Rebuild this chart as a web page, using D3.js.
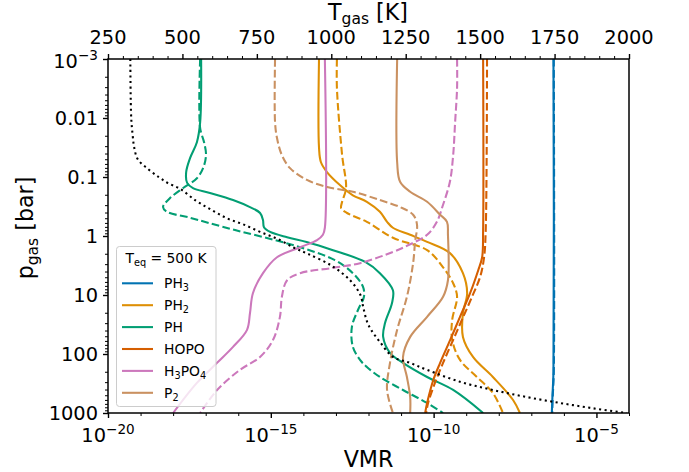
<!DOCTYPE html>
<html><head><meta charset="utf-8">
<script src="https://cdn.jsdelivr.net/npm/d3@7"></script>
<style>body{margin:0;background:#fff} svg{display:block} text{font-family:"DejaVu Sans",sans-serif;fill:#000}</style>
</head><body>
<svg id="c" width="689" height="472"></svg>
<script>
// ---------- data: [log10 p(bar), log10 VMR] ----------
const species = ["PH3","PH2","PH","HOPO","H3PO4","P2"];
const colors = ["#0173B2","#DE8F05","#029E73","#D55E00","#CC78BC","#CA9161"];
const teqLabel = "500 K";

const PH3_solid = [[-3,-6.32],[2.3,-6.32],[2.7,-6.35],[3,-6.37]];
const PH3_dash  = [[-3,-6.31],[2.3,-6.31],[2.7,-6.34],[3,-6.36]];

const PH2_solid = [[-3,-13.52],[-1.5,-13.52],[-1.25,-13.46],[-1.08,-13.27],[-0.86,-12.87],[-0.69,-12.48],[-0.58,-12.05],[-0.41,-11.65],[-0.24,-11.43],[-0.14,-11.25],[-0.02,-10.72],[0.10,-10.20],[0.29,-9.50],[0.63,-9.10],[0.97,-8.97],[1.31,-9.10],[1.71,-9.10],[2.05,-8.79],[2.39,-8.18],[2.78,-7.56],[3.0,-7.35]];
const PH2_dash  = [[-3,-12.97],[-2.51,-12.97],[-1.37,-12.81],[-0.81,-12.69],[-0.58,-12.81],[-0.47,-12.84],[-0.39,-12.66],[-0.24,-12.05],[0.03,-11.25],[0.24,-10.20],[0.53,-9.71],[0.80,-9.40],[1.03,-9.28],[1.42,-9.43],[1.76,-9.43],[2.10,-9.19],[2.39,-8.67],[2.66,-8.18],[3.0,-7.87]];

const PH_solid = [[-3,-17.14],[-1.93,-17.17],[-1.59,-17.27],[-1.32,-17.48],[-1.08,-17.60],[-0.9,-17.57],[-0.81,-17.39],[-0.73,-16.87],[-0.61,-16.16],[-0.49,-15.64],[-0.39,-15.33],[-0.27,-15.24],[-0.15,-15.21],[-0.07,-15.02],[0.02,-14.50],[0.10,-13.90],[0.24,-13.09],[0.44,-12.10],[0.63,-11.65],[0.92,-11.25],[1.14,-11.28],[1.47,-11.49],[1.71,-11.55],[1.98,-11.34],[2.15,-10.94],[2.39,-10.20],[2.61,-9.40],[3.0,-8.48]];
const PH_dash  = [[-3,-17.17],[-1.83,-17.17],[-1.59,-17.05],[-1.37,-16.99],[-1.15,-17.08],[-0.98,-17.27],[-0.81,-17.70],[-0.64,-18.10],[-0.49,-18.31],[-0.41,-18.19],[-0.31,-17.48],[-0.22,-16.90],[-0.10,-16.10],[0.03,-15.15],[0.19,-14.10],[0.41,-13.03],[0.63,-12.48],[0.86,-12.17],[1.03,-12.14],[1.25,-12.32],[1.54,-12.51],[1.88,-12.48],[2.10,-12.26],[2.22,-12.05],[2.39,-11.65],[2.61,-10.94],[2.83,-10.20],[3.0,-9.71]];

const HOPO_solid = [[-3,-8.48],[-0.10,-8.48],[0.36,-8.51],[0.58,-8.63],[0.97,-8.88],[1.37,-9.19],[1.76,-9.49],[2.15,-9.80],[2.44,-10.01],[2.83,-10.20],[3.0,-10.26]];
const HOPO_dash  = [[-3,-8.36],[-0.10,-8.40],[0.36,-8.45],[0.69,-8.57],[1.03,-8.82],[1.42,-9.13],[1.76,-9.40],[2.15,-9.71],[2.49,-9.96],[2.83,-10.17],[3.0,-10.23]];

const H3PO4_solid = [[-3,-13.34],[-0.14,-13.34],[-0.02,-13.40],[0.07,-13.58],[0.19,-14.10],[0.36,-14.81],[0.63,-15.24],[0.97,-15.55],[1.31,-15.64],[1.59,-15.73],[1.88,-16.16],[2.15,-16.65],[2.49,-17.27],[3.0,-18.0]];
const H3PO4_dash  = [[-3,-9.28],[-2.51,-9.28],[-1.93,-9.34],[-1.37,-9.40],[-0.92,-9.50],[-0.53,-9.71],[-0.24,-9.90],[-0.02,-10.20],[0.14,-10.72],[0.27,-11.25],[0.46,-12.26],[0.54,-13.09],[0.63,-14.10],[0.75,-14.50],[1.03,-14.66],[1.37,-14.72],[1.76,-14.93],[2.05,-15.33],[2.27,-15.95],[2.61,-16.65],[3.0,-17.17]];

const P2_solid = [[-3,-11.12],[-1.25,-11.12],[-0.92,-11.03],[-0.75,-10.72],[-0.58,-10.20],[-0.36,-9.80],[-0.24,-9.59],[-0.02,-9.56],[0.75,-9.56],[1.03,-9.71],[1.37,-10.20],[1.71,-10.72],[2.05,-10.94],[2.39,-10.82],[2.73,-10.72],[3.0,-10.72]];
const P2_dash  = [[-3,-14.87],[-1.93,-14.87],[-1.66,-14.81],[-1.37,-14.66],[-1.15,-14.41],[-0.95,-13.89],[-0.83,-13.27],[-0.75,-12.48],[-0.61,-11.65],[-0.49,-11.03],[-0.36,-10.63],[-0.19,-10.51],[0.10,-10.57],[0.46,-10.63],[1.03,-10.82],[1.59,-11.12],[2.15,-11.34],[2.61,-11.43],[3.0,-11.25]];

// temperature profile: [log10 p(bar), T(K)]
const Tprofile = [[-3,325],[-2,328],[-1.7,333],[-1.5,338],[-1.3,350],[-1.15,381],[-1.0,420],[-0.9,450],[-0.8,492],[-0.6,545],[-0.45,595],[-0.3,650],[-0.2,703],[-0.07,761],[0.05,820],[0.2,875],[0.3,920],[0.5,1000],[0.75,1063],[1.0,1098],[1.2,1107],[1.45,1120],[1.6,1135],[1.8,1164],[2.05,1207],[2.15,1264],[2.27,1322],[2.47,1432],[2.61,1543],[2.73,1657],[2.83,1768],[2.92,1879],[3.0,1993]];

const solids = [PH3_solid,PH2_solid,PH_solid,HOPO_solid,H3PO4_solid,P2_solid];
const dashes = [PH3_dash,PH2_dash,PH_dash,HOPO_dash,H3PO4_dash,P2_dash];

const vmrMajor = [-20,-15,-10,-5];
const pMajorLabels = ["10^-3","0.01","0.1","1","10","100","1000"];
const tMajor = [250,500,750,1000,1250,1500,1750,2000];

// ---------- layout ----------
const L=108,R=629,T=59,B=413;
const svg = d3.select("#c");
const x = d3.scaleLog().domain([1e-20,1e-4]).range([L,R]);
const y = d3.scaleLog().domain([1e-3,1e3]).range([T,B]);
const xT = d3.scaleLinear().domain([250,2000]).range([L,R]);

svg.append("clipPath").attr("id","clip").append("rect").attr("x",L).attr("y",T).attr("width",R-L).attr("height",B-T);

const lw = 2.08;
const curve = d3.curveCatmullRom.alpha(0.5);
const line = d3.line().x(d=>x(Math.pow(10,d[1]))).y(d=>y(Math.pow(10,d[0]))).curve(curve);
const g = svg.append("g").attr("clip-path","url(#clip)");
species.forEach((s,i)=>{
  g.append("path").attr("d",line(solids[i])).attr("fill","none").attr("stroke",colors[i]).attr("stroke-width",lw);
  g.append("path").attr("d",line(dashes[i])).attr("fill","none").attr("stroke",colors[i]).attr("stroke-width",lw).attr("stroke-dasharray","7.7,3.3");
});

// legend
const lg = svg.append("g");
lg.append("rect").attr("x",116.5).attr("y",246.5).attr("width",99.5).attr("height",160).attr("rx",3)
  .attr("fill","white").attr("fill-opacity",0.8).attr("stroke","#cccccc").attr("stroke-width",1);
const fs = 13.9;
const tt = lg.append("text").attr("x",166).attr("y",263).attr("text-anchor","middle").style("font-size",fs+"px");
tt.append("tspan").text("T");
tt.append("tspan").attr("dy",3).style("font-size",(fs*0.7)+"px").text("eq");
tt.append("tspan").attr("dy",-3).text(" = "+teqLabel);
const subs = [["PH","3",""],["PH","2",""],["PH","",""],["HOPO","",""],["H","3","PO","4"],["P","2",""]];
species.forEach((s,i)=>{
  const cy = 283.3 + i*21.9;
  lg.append("line").attr("x1",122).attr("x2",153).attr("y1",cy).attr("y2",cy).attr("stroke",colors[i]).attr("stroke-width",lw);
  const t = lg.append("text").attr("x",164).attr("y",cy+5).style("font-size",fs+"px");
  const parts = subs[i];
  t.append("tspan").text(parts[0]);
  if(parts[1]){ t.append("tspan").attr("dy",3).style("font-size",(fs*0.7)+"px").text(parts[1]); }
  if(parts[2]){ t.append("tspan").attr("dy",-3).text(parts[2]); }
  if(parts[3]){ t.append("tspan").attr("dy",3).style("font-size",(fs*0.7)+"px").text(parts[3]); }
});

// temperature profile (twin axis, on top)
const tline = d3.line().x(d=>xT(d[1])).y(d=>y(Math.pow(10,d[0]))).curve(curve);
svg.append("path").attr("clip-path","url(#clip)").attr("d",tline(Tprofile)).attr("fill","none")
  .attr("stroke","#000").attr("stroke-width",lw).attr("stroke-dasharray","2.08,3.43");

// ---------- axes ----------
function styleAxis(sel,w){ sel.select(".domain").remove(); sel.selectAll(".tick line").attr("stroke","#000").attr("stroke-width",w); sel.selectAll(".tick text").remove(); }
const tickFs = 19.4;
// bottom
const bMinor=[]; for(let e=-20;e<=-4;e++) if(!vmrMajor.includes(e)) bMinor.push(Math.pow(10,e));
svg.append("g").attr("transform",`translate(0,${B})`).call(d3.axisBottom(x).tickValues(bMinor).tickSize(3).tickFormat(""))
  .call(s=>styleAxis(s,1));
svg.append("g").attr("transform",`translate(0,${B})`).call(d3.axisBottom(x).tickValues(vmrMajor.map(e=>Math.pow(10,e))).tickSize(5).tickFormat(""))
  .call(s=>styleAxis(s,1.4));
vmrMajor.forEach(e=>{
  const t = svg.append("text").attr("x",x(Math.pow(10,e))).attr("y",442).attr("text-anchor","middle").style("font-size",tickFs+"px");
  t.append("tspan").text("10");
  t.append("tspan").attr("dy",-8).style("font-size",(tickFs*0.7)+"px").text("\u2212"+Math.abs(e));
});
// left
const lMinor=[]; for(let e=-3;e<3;e++) for(let k=2;k<=9;k++) lMinor.push(k*Math.pow(10,e));
svg.append("g").attr("transform",`translate(${L},0)`).call(d3.axisLeft(y).tickValues(lMinor).tickSize(3).tickFormat(""))
  .call(s=>styleAxis(s,1));
const lMajorVals = pMajorLabels.map((d,i)=>Math.pow(10,i-3));
svg.append("g").attr("transform",`translate(${L},0)`).call(d3.axisLeft(y).tickValues(lMajorVals).tickSize(5).tickFormat(""))
  .call(s=>styleAxis(s,1.4));
pMajorLabels.forEach((lab,i)=>{
  const t = svg.append("text").attr("x",98).attr("y",y(lMajorVals[i])+7).attr("text-anchor","end").style("font-size",tickFs+"px");
  if(lab.includes("^")){
    const [b,ex]=lab.split("^");
    t.attr("y",y(lMajorVals[i])+9);
    t.append("tspan").text(b);
    t.append("tspan").attr("dy",-8).style("font-size",(tickFs*0.7)+"px").text("\u2212"+ex.replace("-",""));
  } else t.text(lab);
});
// top
const tMinor=[]; for(let v=250;v<=2000;v+=50) if(!tMajor.includes(v)) tMinor.push(v);
svg.append("g").attr("transform",`translate(0,${T})`).call(d3.axisTop(xT).tickValues(tMinor).tickSize(3).tickFormat(""))
  .call(s=>styleAxis(s,1));
svg.append("g").attr("transform",`translate(0,${T})`).call(d3.axisTop(xT).tickValues(tMajor).tickSize(5).tickFormat(""))
  .call(s=>styleAxis(s,1.4));
tMajor.forEach(v=>{
  svg.append("text").attr("x",xT(v)).attr("y",44).attr("text-anchor","middle").style("font-size",tickFs+"px").text(v);
});
// frame
svg.append("rect").attr("x",L).attr("y",T).attr("width",R-L).attr("height",B-T).attr("fill","none").attr("stroke","#000").attr("stroke-width",1.5);

// axis titles
const labFs = 22.2;
svg.append("text").attr("x",368.5).attr("y",467).attr("text-anchor","middle").style("font-size",labFs+"px").text("VMR");
const tl = svg.append("text").attr("x",368).attr("y",20).attr("text-anchor","middle").style("font-size",labFs+"px");
tl.append("tspan").text("T");
tl.append("tspan").attr("dy",4).style("font-size",(labFs*0.7)+"px").text("gas");
tl.append("tspan").attr("dy",-4).text(" [K]");
const yl = svg.append("text").attr("transform","translate(33,228) rotate(-90)").attr("text-anchor","middle").style("font-size",labFs+"px");
yl.append("tspan").text("p");
yl.append("tspan").attr("dy",5).style("font-size",(labFs*0.7)+"px").text("gas");
yl.append("tspan").attr("dy",-5).text(" [bar]");
</script></body></html>
